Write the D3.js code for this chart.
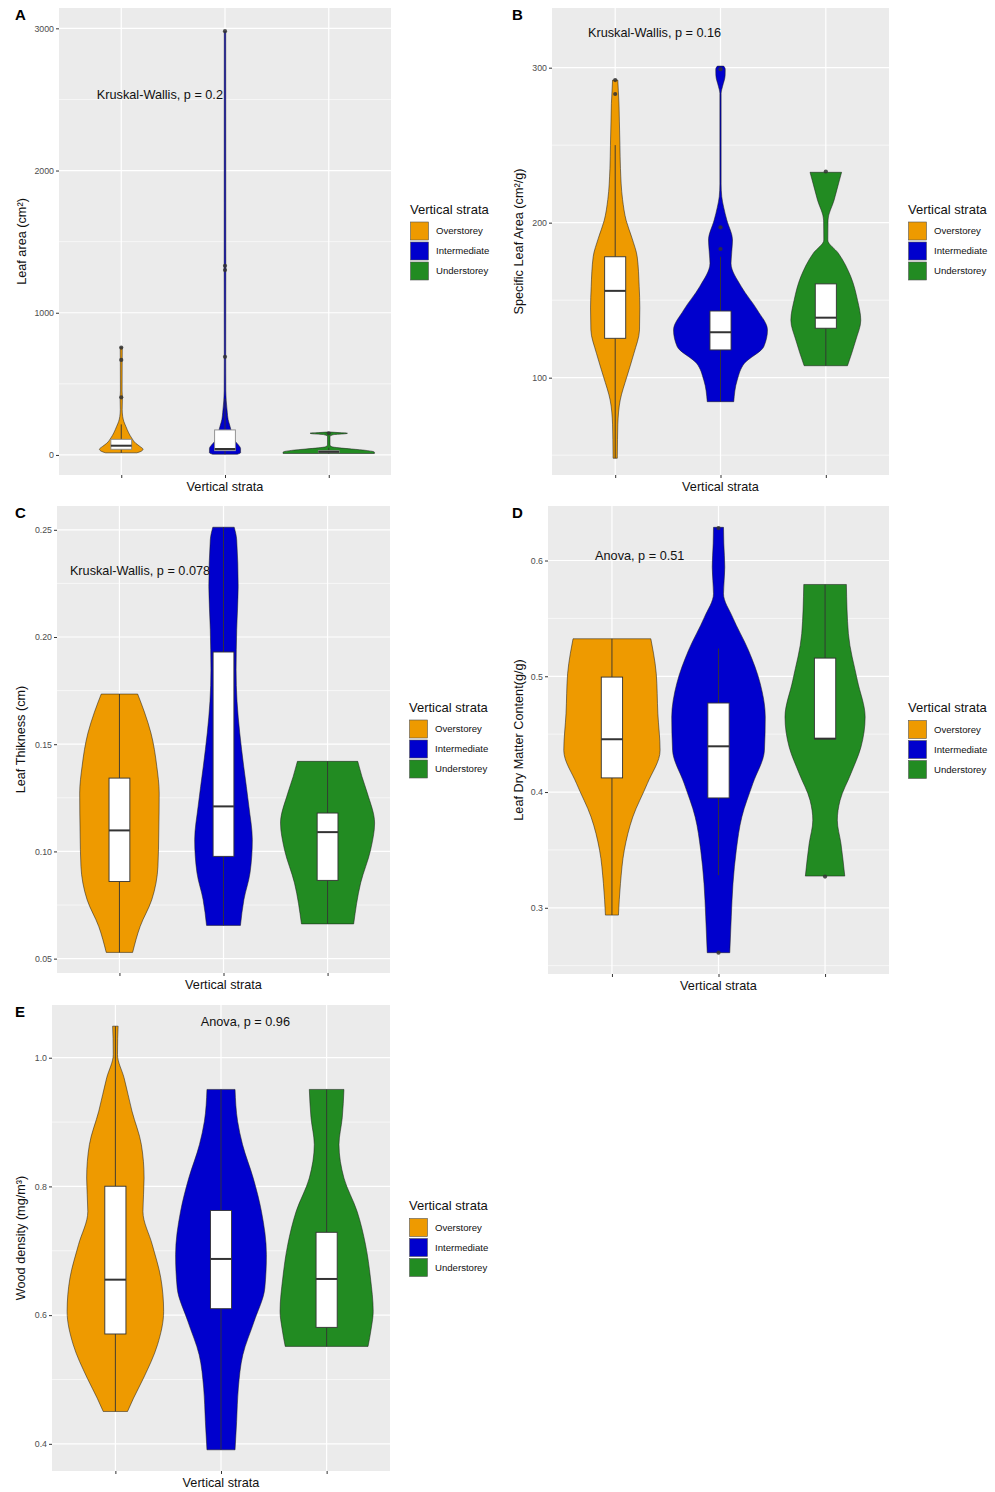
<!DOCTYPE html>
<html>
<head>
<meta charset="utf-8">
<script src="https://cdn.jsdelivr.net/npm/d3@7"></script>
<style>
  body { margin: 0; background: #fff; }
  svg { display: block; font-family: "Liberation Sans", Arial, sans-serif; }
</style>
</head>
<body>
<svg id="chart" width="995" height="1492"></svg>
<script>
// Groups and fills
const strata = ["Overstorey", "Intermediate", "Understorey"];
const strataColors = ["#EE9A00", "#0000CD", "#228B22"];

// Violin profiles: [value, half width in category units], per stratum
const leafAreaViolins = [
    [[15,0.15],[25,0.19],[40,0.21],[60,0.18],[82,0.14],[120,0.10],[155,0.072],[200,0.045],[235,0.025],[270,0.014],[320,0.009],[400,0.011],[450,0.008],[660,0.009],[755,0.01]],
    [[5,0.12],[15,0.15],[45,0.15],[70,0.13],[95,0.10],[130,0.08],[170,0.06],[210,0.045],[250,0.03],[300,0.022],[380,0.012],[450,0.008],[700,0.007],[1300,0.008],[2980,0.007]],
    [[10,0.44],[20,0.44],[32,0.36],[42,0.22],[50,0.1],[58,0.03],[70,0.012],[130,0.012],[143,0.05],[149,0.16],[153,0.18],[157,0.1],[161,0.02]]
];
const slaViolins = [
    [[48,0.02],[60,0.022],[70,0.025],[85.6,0.048],[100.6,0.111],[115.7,0.178],[130.8,0.231],[145,0.234],[158.7,0.228],[178,0.209],[190,0.16],[201.5,0.104],[215,0.07],[235,0.05],[250,0.045],[265,0.04],[277,0.036],[285,0.03],[292,0.025]],
    [[84.5,0.126],[98.5,0.159],[109.3,0.228],[120,0.411],[130.8,0.446],[143.7,0.349],[158.7,0.198],[173.8,0.10],[188.8,0.114],[201.7,0.06],[210,0.03],[216.8,0.012],[225,0.006],[283.5,0.006],[288,0.02],[295,0.044],[299,0.045],[301,0.03]],
    [[107.7,0.206],[124.3,0.285],[137,0.332],[150,0.301],[165.2,0.237],[180.3,0.119],[188.8,0.019],[201.7,0.021],[214.6,0.079],[225,0.12],[232.5,0.15]]
];
const thicknessViolins = [
    [[0.0529,0.127],[0.065,0.199],[0.0775,0.311],[0.093,0.37],[0.1086,0.378],[0.1272,0.382],[0.1397,0.359],[0.1552,0.303],[0.165,0.24],[0.1734,0.175]],
    [[0.0655,0.163],[0.0775,0.196],[0.09,0.255],[0.1055,0.277],[0.121,0.244],[0.1397,0.194],[0.1553,0.156],[0.17,0.13],[0.1847,0.121],[0.2034,0.127],[0.2236,0.141],[0.2453,0.127],[0.2512,0.103]],
    [[0.0662,0.251],[0.0853,0.318],[0.1008,0.414],[0.1132,0.452],[0.1272,0.382],[0.135,0.33],[0.142,0.29]]
];
const ldmcViolins = [
    [[0.2937,0.061],[0.321,0.08],[0.3498,0.116],[0.3785,0.196],[0.4073,0.332],[0.436,0.452],[0.4677,0.431],[0.5022,0.416],[0.52,0.39],[0.5324,0.365]],
    [[0.2612,0.106],[0.2922,0.12],[0.321,0.136],[0.3498,0.167],[0.3785,0.219],[0.4073,0.322],[0.436,0.431],[0.4648,0.439],[0.4936,0.392],[0.5223,0.282],[0.5511,0.132],[0.5713,0.047],[0.5942,0.059],[0.615,0.05],[0.6287,0.047]],
    [[0.3274,0.185],[0.3556,0.149],[0.3757,0.115],[0.3929,0.141],[0.416,0.243],[0.4389,0.337],[0.4648,0.376],[0.4965,0.303],[0.5368,0.219],[0.5793,0.2]]
];
const woodViolins = [
    [[0.4503,0.115],[0.471,0.172],[0.502,0.266],[0.554,0.399],[0.6058,0.457],[0.6578,0.43],[0.7096,0.349],[0.761,0.261],[0.813,0.272],[0.865,0.246],[0.917,0.157],[0.969,0.082],[1.005,0.02],[1.03,0.022],[1.049,0.026]],
    [[0.3907,0.133],[0.4347,0.148],[0.4867,0.164],[0.5385,0.207],[0.59,0.313],[0.6422,0.415],[0.694,0.43],[0.761,0.383],[0.813,0.305],[0.865,0.204],[0.9014,0.157],[0.9507,0.133]],
    [[0.5514,0.392],[0.58,0.423],[0.6058,0.441],[0.6578,0.415],[0.7096,0.368],[0.761,0.289],[0.813,0.164],[0.865,0.117],[0.9067,0.148],[0.9507,0.164]]
];

// Box stats: [lower whisker, Q1, median, Q3, upper whisker]
const leafAreaBoxes = [[15,40,65,110,215],[5,30,42,176,395],[8,16,22,30,50]];
const slaBoxes = [[48,125.4,156,178,250],[84.5,117.9,129.3,143,178],[107.7,131.9,138.7,160.5,160.5]];
const thicknessBoxes = [[0.0529,0.086,0.1098,0.1342,0.1734],[0.0655,0.0977,0.121,0.193,0.2512],[0.0662,0.0865,0.109,0.1179,0.142]];
const ldmcBoxes = [[0.2937,0.4122,0.4456,0.4993,0.5324],[0.3282,0.3949,0.4395,0.4769,0.524],[0.4461,0.4461,0.4461,0.5157,0.5793]];
const woodBoxes = [[0.4503,0.5707,0.6551,0.8003,1.049],[0.3907,0.61,0.6873,0.7625,0.9507],[0.5514,0.581,0.6562,0.7287,0.9507]];

// Outliers
const leafAreaOutliers = [[405,668,755],[690,1300,1330,2980],[152]];
const slaOutliers = [[283,292],[183,197,299],[233]];
const thicknessOutliers = [[],[],[]];
const ldmcOutliers = [[],[0.2612,0.628],[0.327]];
const woodOutliers = [[],[],[]];

// Axis ticks
const leafAreaTicks = [0, 1000, 2000, 3000];
const slaTicks = [100, 200, 300];
const thicknessTicks = [0.05, 0.10, 0.15, 0.20, 0.25];
const ldmcTicks = [0.3, 0.4, 0.5, 0.6];
const woodTicks = [0.4, 0.6, 0.8, 1.0];

// Test labels: [x in category units, y value, text]
const testLabels = [
    [0.765, 2531, "Kruskal-Wallis, p = 0.2"],
    [0.742, 322.4, "Kruskal-Wallis, p = 0.16"],
    [0.524, 0.2312, "Kruskal-Wallis, p = 0.078"],
    [0.842, 0.6039, "Anova, p = 0.51"],
    [1.808, 1.0555, "Anova, p = 0.96"]
];

const panels = [
    { tag: "A", x0: 59, x1: 391, y0: 8, y1: 475, domain: [-141, 3143], ticks: leafAreaTicks, fmt: d3.format("d"),
      title: "Leaf area (cm²)", titleX: 21.7, violins: leafAreaViolins, boxes: leafAreaBoxes, outliers: leafAreaOutliers, boxStroke: "#8a8a8a" },
    { tag: "B", x0: 552, x1: 889, y0: 8, y1: 475, domain: [37.2, 338.5], ticks: slaTicks, fmt: d3.format("d"),
      title: "Specific Leaf Area (cm²/g)", titleX: 519, violins: slaViolins, boxes: slaBoxes, outliers: slaOutliers, boxStroke: "#333" },
    { tag: "C", x0: 57, x1: 390, y0: 506, y1: 973, domain: [0.0433, 0.2611], ticks: thicknessTicks, fmt: d3.format(".2f"),
      title: "Leaf Thikness (cm)", titleX: 21, violins: thicknessViolins, boxes: thicknessBoxes, outliers: thicknessOutliers, boxStroke: "#333" },
    { tag: "D", x0: 548, x1: 889, y0: 506, y1: 974, domain: [0.2428, 0.6471], ticks: ldmcTicks, fmt: d3.format(".1f"),
      title: "Leaf Dry Matter Content(g/g)", titleX: 519, violins: ldmcViolins, boxes: ldmcBoxes, outliers: ldmcOutliers, boxStroke: "#333" },
    { tag: "E", x0: 52, x1: 390, y0: 1005, y1: 1471, domain: [0.3578, 1.0819], ticks: woodTicks, fmt: d3.format(".1f"),
      title: "Wood density (mg/m³)", titleX: 20.5, violins: woodViolins, boxes: woodBoxes, outliers: woodOutliers, boxStroke: "#333" }
];

const svg = d3.select("#chart");
svg.append("rect").attr("width", 995).attr("height", 1492).attr("fill", "#fff");

panels.forEach((p, pi) => {
    const g = svg.append("g");

    const x = d3.scalePoint().domain(strata).range([p.x0, p.x1]).padding(0.6);
    const step = x.step();
    // numeric position in category units (1..3)
    const xNum = d3.scaleLinear().domain([1, 3]).range([x(strata[0]), x(strata[2])]);
    const y = d3.scaleLinear().domain(p.domain).range([p.y1, p.y0]);

    // panel background
    g.append("rect")
        .attr("x", p.x0).attr("y", p.y0)
        .attr("width", p.x1 - p.x0).attr("height", p.y1 - p.y0)
        .attr("fill", "#EBEBEB");

    // minor grid
    const half = (p.ticks[1] - p.ticks[0]) / 2;
    const minor = [p.ticks[0] - half].concat(p.ticks.map(t => t + half))
        .filter(v => v > p.domain[0] && v < p.domain[1]);
    g.selectAll(".minor").data(minor).enter().append("line")
        .attr("x1", p.x0).attr("x2", p.x1)
        .attr("y1", d => y(d)).attr("y2", d => y(d))
        .attr("stroke", "#fff").attr("stroke-width", 0.6);

    // major grid
    g.selectAll(".major").data(p.ticks).enter().append("line")
        .attr("x1", p.x0).attr("x2", p.x1)
        .attr("y1", d => y(d)).attr("y2", d => y(d))
        .attr("stroke", "#fff").attr("stroke-width", 1.2);
    g.selectAll(".vgrid").data(strata).enter().append("line")
        .attr("x1", d => x(d)).attr("x2", d => x(d))
        .attr("y1", p.y0).attr("y2", p.y1)
        .attr("stroke", "#fff").attr("stroke-width", 1.2);

    // test label sits under the violins
    const lab = testLabels[pi];
    g.append("text")
        .attr("x", xNum(lab[0])).attr("y", y(lab[1]))
        .attr("dy", "0.35em")
        .attr("font-size", "12.7px").attr("fill", "#111")
        .text(lab[2]);

    // violins
    strata.forEach((s, i) => {
        const cx = x(s);
        const area = d3.area()
            .curve(d3.curveMonotoneY)
            .y(d => y(d[0]))
            .x0(d => cx - d[1] * step)
            .x1(d => cx + d[1] * step);
        g.append("path")
            .datum(p.violins[i])
            .attr("d", area)
            .attr("fill", strataColors[i])
            .attr("stroke", "#1a1a1a")
            .attr("stroke-opacity", 0.65)
            .attr("stroke-width", 0.8);
    });

    // boxplots
    strata.forEach((s, i) => {
        const cx = x(s);
        const [lo, q1, med, q3, hi] = p.boxes[i];
        const bw = 0.2 * step;
        g.append("line")
            .attr("x1", cx).attr("x2", cx)
            .attr("y1", y(hi)).attr("y2", y(q3))
            .attr("stroke", "#333").attr("stroke-width", 0.9);
        g.append("line")
            .attr("x1", cx).attr("x2", cx)
            .attr("y1", y(q1)).attr("y2", y(lo))
            .attr("stroke", "#333").attr("stroke-width", 0.9);
        g.append("rect")
            .attr("x", cx - bw / 2).attr("width", bw)
            .attr("y", y(q3)).attr("height", Math.max(1, y(q1) - y(q3)))
            .attr("fill", "#fff")
            .attr("stroke", p.boxStroke).attr("stroke-width", 0.9);
        g.append("line")
            .attr("x1", cx - bw / 2).attr("x2", cx + bw / 2)
            .attr("y1", y(med)).attr("y2", y(med))
            .attr("stroke", "#333").attr("stroke-width", 2);
        g.selectAll(null).data(p.outliers[i]).enter().append("circle")
            .attr("cx", cx).attr("cy", d => y(d))
            .attr("r", 2.1)
            .attr("fill", "#333").attr("fill-opacity", 0.85);
    });

    // y axis
    const yAxis = d3.axisLeft(y).tickValues(p.ticks).tickFormat(p.fmt).tickSize(3).tickPadding(2);
    const ya = g.append("g").attr("transform", `translate(${p.x0},0)`).call(yAxis);
    ya.select(".domain").remove();
    ya.selectAll(".tick line").attr("stroke", "#333");
    ya.selectAll(".tick text").attr("fill", "#4D4D4D").style("font-size", "8.8px")
        .style("font-family", "Liberation Sans, Arial, sans-serif");

    // x axis (ticks only, no labels)
    const xAxis = d3.axisBottom(x).tickSize(3).tickFormat("");
    const xa = g.append("g").attr("transform", `translate(0,${p.y1})`).call(xAxis);
    xa.select(".domain").remove();
    xa.selectAll(".tick line").attr("stroke", "#333");

    // axis titles
    g.append("text")
        .attr("x", (p.x0 + p.x1) / 2).attr("y", p.y1 + 16)
        .attr("text-anchor", "middle")
        .attr("font-size", "12.7px").attr("fill", "#111")
        .text("Vertical strata");
    g.append("text")
        .attr("transform", `translate(${p.titleX},${(p.y0 + p.y1) / 2}) rotate(-90)`)
        .attr("dy", "0.35em")
        .attr("text-anchor", "middle")
        .attr("font-size", "12.7px").attr("fill", "#111")
        .text(p.title);

    // panel tag
    g.append("text")
        .attr("x", p.x0 < 100 ? 15 : 512).attr("y", p.y0 + 12)
        .attr("font-size", "15px").attr("font-weight", "bold").attr("fill", "#000")
        .text(p.tag);

    // legend
    const lx = p.x1 + 19;
    const cy = (p.y0 + p.y1) / 2;
    const leg = g.append("g").attr("transform", `translate(${lx},${cy - 20})`);
    leg.append("text")
        .attr("x", 0).attr("y", -8)
        .attr("font-size", "13px").attr("fill", "#111")
        .text("Vertical strata");
    strata.forEach((s, i) => {
        leg.append("rect")
            .attr("x", 0.5).attr("y", i * 20 + 0.5)
            .attr("width", 18).attr("height", 18)
            .attr("fill", strataColors[i])
            .attr("stroke", "#555").attr("stroke-width", 0.6);
        leg.append("text")
            .attr("x", 26).attr("y", i * 20 + 9.5)
            .attr("dy", "0.35em")
            .attr("font-size", "9.6px").attr("fill", "#111")
            .text(s);
    });
});
</script>
</body>
</html>
